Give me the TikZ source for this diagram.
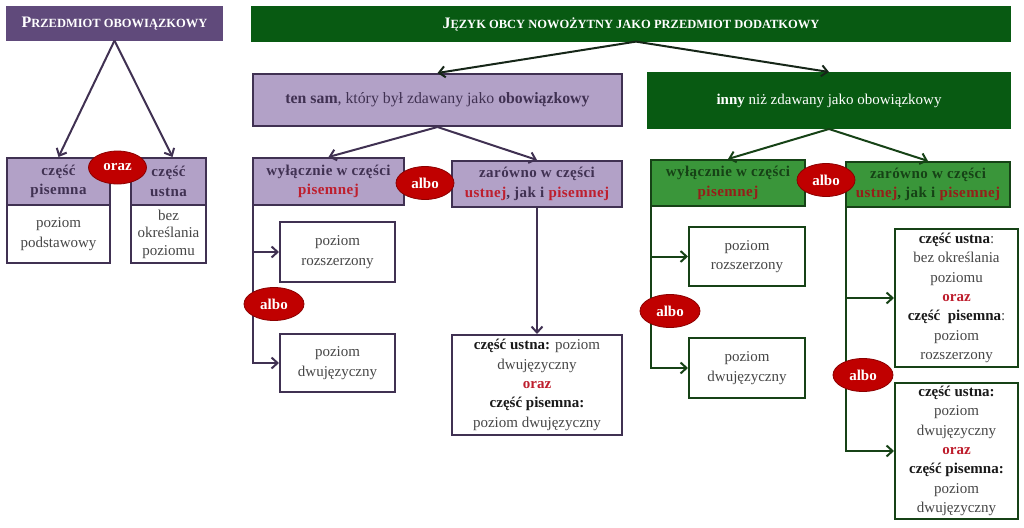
\documentclass[tikz,border=0pt]{standalone}
\usepackage{fontspec}
\setmainfont{Liberation Serif}
\usepackage{xcolor}
\usepackage{tikz}
\usetikzlibrary{shapes.geometric,arrows.meta}

\definecolor{fiolet}{RGB}{96,74,123}
\definecolor{fioletJasny}{RGB}{178,161,199}
\definecolor{fioletLinia}{RGB}{64,49,82}
\definecolor{zielen}{RGB}{8,90,18}
\definecolor{zielenSr}{RGB}{58,150,58}
\definecolor{zielenLinia}{RGB}{22,66,22}
\definecolor{czerwien}{RGB}{192,0,0}
\definecolor{czerwienC}{RGB}{140,0,0}
\definecolor{czerwienT}{RGB}{190,30,45}
\definecolor{czerwienZ}{RGB}{150,30,25}
\definecolor{tekst}{RGB}{70,70,70}
\definecolor{czarny}{RGB}{25,25,25}

\newcommand{\tx}{\fontsize{15}{19.4}\selectfont}
\newcommand{\txn}{\tx\bfseries\addfontfeature{LetterSpace=3}}
\newcommand{\kap}[2]{{\fontsize{16}{18}\selectfont #1}{\fontsize{12.5}{14}\selectfont #2}}

\begin{document}
\begin{tikzpicture}[x=1pt,y=1pt,yscale=-1,
	tytul/.style={line width=1.2pt,text=white,font=\tx\bfseries,inner sep=0pt},
	naglF/.style={draw=fioletLinia,fill=fioletJasny,line width=2pt,inner sep=0pt,align=center,text=fioletLinia,font=\txn},
	naglZ/.style={draw=zielenLinia,fill=zielenSr,line width=2pt,inner sep=0pt,align=center,text=zielenLinia,font=\txn},
	poleF/.style={draw=fioletLinia,fill=white,line width=2pt,inner sep=0pt,align=center,text=tekst,font=\tx},
	poleZ/.style={draw=zielenLinia,fill=white,line width=2pt,inner sep=0pt,align=center,text=tekst,font=\tx},
	owal/.style={ellipse,draw=czerwienC,fill=czerwien,line width=0.8pt,text=white,font=\tx\bfseries,inner sep=0pt,minimum width=58pt,minimum height=33pt},
	strzF/.style={line width=2pt,draw=fioletLinia,-{Straight Barb[length=6pt,width=11pt]}},
	strzZ/.style={line width=2pt,draw=zielenLinia,-{Straight Barb[length=6pt,width=11pt]}}]
	\useasboundingbox (0,0) rectangle (1024,527);
	
	%Shape: Rectangle - przedmiot obowiazkowy
	\node[tytul,fill=fiolet,draw=fiolet,minimum width=215pt,minimum height=33pt] (obow) at (114.5,23.5) {\kap{P}{RZEDMIOT OBOWIĄZKOWY}};
	\node[naglF,minimum width=103pt,minimum height=47pt] (pis) at (58.5,181.5) {część\\pisemna};
	\node[poleF,minimum width=103pt,minimum height=58pt] (pisPoz) at (58.5,234) {poziom\\podstawowy};
	\node[naglF,minimum width=75pt,minimum height=47pt] (ust) at (168.5,181.5) {część\\ustna};
	\node[poleF,minimum width=75pt,minimum height=58pt,font=\fontsize{15}{17.5}\selectfont] (ustPoz) at (168.5,234) {bez\\określania\\poziomu};
	
	%Shape: Rectangle - przedmiot dodatkowy
	\node[tytul,fill=zielen,draw=zielen,minimum width=758pt,minimum height=34pt] (jezyk) at (631,24) {\kap{J}{ĘZYK OBCY NOWOŻYTNY JAKO PRZEDMIOT DODATKOWY}};
	\node[naglF,font=\fontsize{15.8}{19}\selectfont,minimum width=369pt,minimum height=52pt] (tenSam) at (437.5,100) {\textbf{ten sam}, który był zdawany jako \textbf{obowiązkowy}};
	\node[draw=zielen,fill=zielen,line width=2pt,text=white,font=\tx,minimum width=362pt,minimum height=55pt] (inny) at (829,100.5) {\textbf{inny} niż zdawany jako obowiązkowy};
	
	%Shape: Rectangle - ten sam
	\node[naglF,minimum width=151pt,minimum height=47pt] (wyl1) at (328.5,181.5) {wyłącznie w części\\\textcolor{czerwienT}{pisemnej}};
	\node[naglF,minimum width=170pt,minimum height=46pt] (zar1) at (537,184) {zarówno w części\\\textcolor{czerwienT}{ustnej}, jak i \textcolor{czerwienT}{pisemnej}};
	\node[poleF,minimum width=115pt,minimum height=60pt] (roz1) at (337.5,252) {poziom\\rozszerzony};
	\node[poleF,minimum width=115pt,minimum height=58pt] (dwu1) at (337.5,363) {poziom\\dwujęzyczny};
	\node[poleF,minimum width=170pt,minimum height=100pt] (oba1) at (537,385) {\textcolor{czarny}{\textbf{część ustna:}} poziom\\dwujęzyczny\\\textcolor{czerwienT}{\textbf{oraz}}\\\textcolor{czarny}{\textbf{część pisemna:}}\\poziom dwujęzyczny};
	
	%Shape: Rectangle - inny
	\node[naglZ,minimum width=154pt,minimum height=46pt] (wyl2) at (728,183) {wyłącznie w części\\\textcolor{czerwienZ}{pisemnej}};
	\node[naglZ,minimum width=164pt,minimum height=45pt] (zar2) at (928,184.5) {zarówno w części\\\textcolor{czerwienZ}{ustnej}, jak i \textcolor{czerwienZ}{pisemnej}};
	\node[poleZ,minimum width=116pt,minimum height=59pt] (roz2) at (747,256.5) {poziom\\rozszerzony};
	\node[poleZ,minimum width=116pt,minimum height=60pt] (dwu2) at (747,368) {poziom\\dwujęzyczny};
	\node[poleZ,minimum width=123pt,minimum height=138pt] (oba2) at (956.5,298) {\textcolor{czarny}{\textbf{część ustna}}:\\bez określania\\poziomu\\\textcolor{czerwienT}{\textbf{oraz}}\\\textcolor{czarny}{\textbf{część~ pisemna}}:\\poziom\\rozszerzony};
	\node[poleZ,minimum width=123pt,minimum height=136pt] (oba3) at (956.5,451) {\textcolor{czarny}{\textbf{część ustna:}}\\poziom\\dwujęzyczny\\\textcolor{czerwienT}{\textbf{oraz}}\\\textcolor{czarny}{\textbf{część pisemna:}}\\poziom\\dwujęzyczny};
	
	%Straight Lines
	\draw[strzF] (obow.south) -- (pis.north);
	\draw[strzF] (obow.south) -- ([xshift=4pt]ust.north);
	\draw[strzZ,draw=czarny!80!zielen] ([xshift=5pt]jezyk.south) -- (tenSam.north);
	\draw[strzZ,draw=czarny!80!zielen] ([xshift=5pt]jezyk.south) -- (inny.north);
	\draw[strzF] (tenSam.south) -- (wyl1.north);
	\draw[strzF] (tenSam.south) -- (zar1.north);
	\draw[strzF] ([xshift=1pt]wyl1.south west) |- (roz1.west);
	\draw[strzF] ([xshift=1pt]wyl1.south west) |- (dwu1.west);
	\draw[strzF] (zar1.south) -- (oba1.north);
	\draw[strzZ] (inny.south) -- (wyl2.north);
	\draw[strzZ] (inny.south) -- (zar2.north);
	\draw[strzZ] ([xshift=1pt]wyl2.south west) |- (roz2.west);
	\draw[strzZ] ([xshift=1pt]wyl2.south west) |- (dwu2.west);
	\draw[strzZ] ([xshift=1pt]zar2.south west) |- (oba2.west);
	\draw[strzZ] ([xshift=1pt]zar2.south west) |- (oba3.west);
	
	%Shape: Ellipse
	\node[owal] (oraz1) at (117.5,167.5) {oraz};
	\node[owal] (albo1) at (425,183) {albo};
	\node[owal,minimum width=60pt] (albo2) at (274,304) {albo};
	\node[owal] (albo3) at (826,180) {albo};
	\node[owal,minimum width=60pt] (albo4) at (670,311) {albo};
	\node[owal,minimum width=60pt] (albo5) at (863,375) {albo};
	
\end{tikzpicture}
\end{document}
